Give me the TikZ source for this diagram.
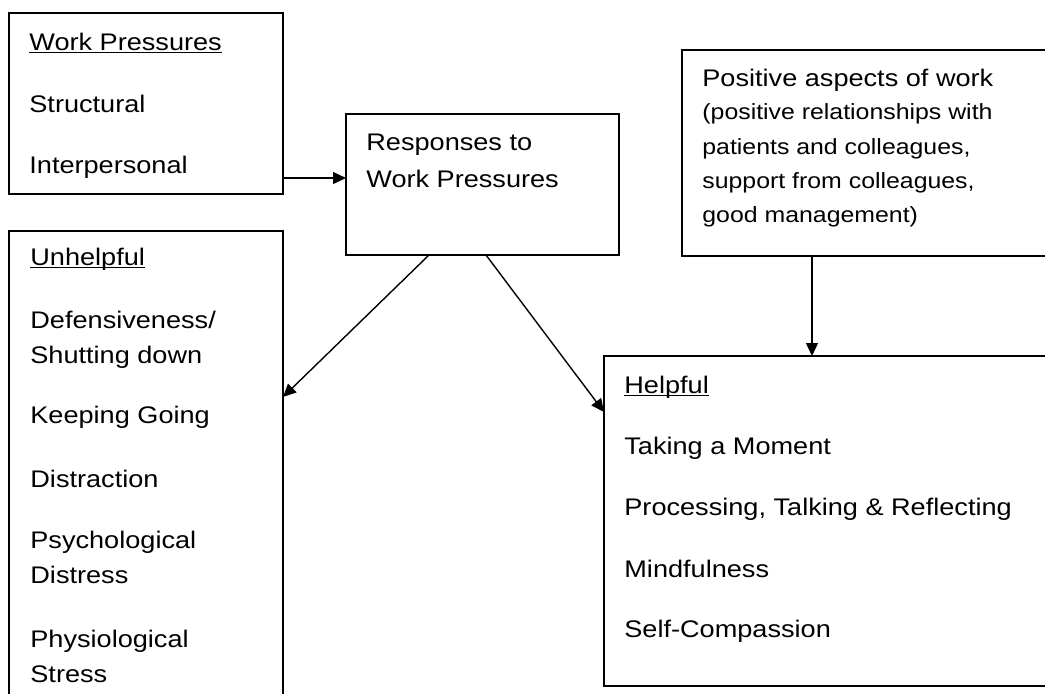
\documentclass[tikz,border=0pt]{standalone}
\usepackage{fontspec}
\setmainfont{Liberation Sans}[FakeStretch=1.13]
\usetikzlibrary{arrows.meta}

\tikzset{
  box/.style={draw, line width=1pt, anchor=north west, inner sep=0pt, outer sep=0pt},
  sz/.style 2 args={minimum width=#1*0.5pt, minimum height=#2*0.5pt},
  txt/.style={anchor=base west, inner sep=0pt, font=\fontsize{12}{14}\selectfont},
  small/.style={txt, font=\fontsize{11}{13}\selectfont},
  arr/.style={line width=0.7pt, -{Triangle[length=6.5pt,width=6pt]}}
}
\newcommand{\hd}[1]{\underline{\smash{#1}}}

\begin{document}
\begin{tikzpicture}[x=0.5pt,y=-0.5pt]
  \clip (0,0) rectangle (1045,693);
  % boxes
  \node[box,sz={274}{181}] (wp) at (9,13) {};
  \node[box,sz={273}{141}] (resp) at (346,114) {};
  \node[box,sz={400}{206}] (pos) at (682,50) {};
  \node[box,sz={274}{500}] (unh) at (9,231) {};
  \node[box,sz={480}{330}] (help) at (604,356) {};
  % texts
  \foreach \y/\t [count=\i] in {50/{\hd{Work Pressures}},112/Structural,173/Interpersonal}
    \node[txt] (wp\i) at (29,\y) {\t};
  \foreach \y/\t [count=\i] in {150/Responses to,187/Work Pressures}
    \node[txt] (resp\i) at (366,\y) {\t};
  \node[txt] (pos0) at (702,86) {Positive aspects of work};
  \foreach \y/\t [count=\i] in {119/{(positive relationships with},154/{patients and colleagues,},
      188/{support from colleagues,},222/{good management)}}
    \node[small] (pos\i) at (702,\y) {\t};
  \foreach \y/\t [count=\i] in {265/{\hd{Unhelpful}},328/{Defensiveness/},363/Shutting down,
      423/Keeping Going,487/Distraction,548/Psychological,583/Distress,647/Physiological,682/Stress}
    \node[txt] (unh\i) at (30,\y) {\t};
  \foreach \y/\t [count=\i] in {393/{\hd{Helpful}},454/Taking a Moment,
      515/{Processing, Talking \& Reflecting},577/Mindfulness,637/Self-Compassion}
    \node[txt] (help\i) at (624,\y) {\t};
  % arrows
  \draw[arr] ([yshift=8pt]wp.south east) -- ([yshift=-32pt]resp.north west);
  \draw[arr] ([xshift=41.5pt]resp.south west) -- ([yshift=-83pt]unh.north east);
  \draw[arr] ([xshift=70pt]resp.south west) -- ([yshift=-28pt]help.north west);
  \draw[arr] ([xshift=65pt]pos.south west) -- ([xshift=104pt]help.north west);
\end{tikzpicture}
\end{document}
